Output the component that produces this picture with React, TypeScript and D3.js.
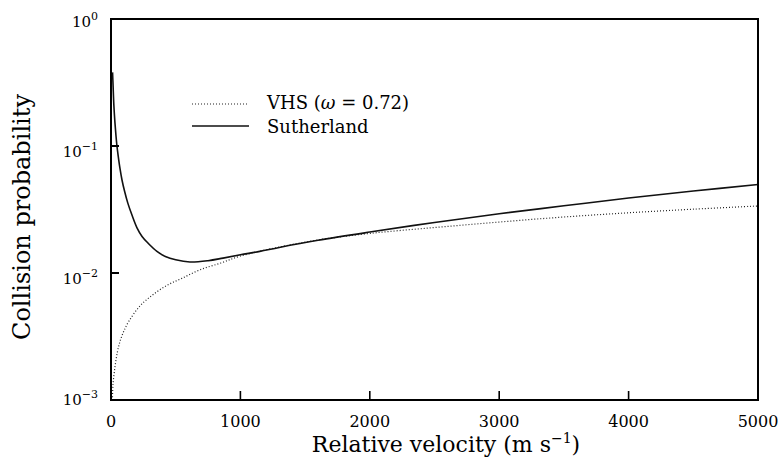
import React from "react";
import * as d3 from "d3";

// Data
const sutherlandV = [12, 16, 22, 30, 38, 46, 56, 70, 85, 105, 130, 162, 200, 240, 286, 355, 420, 500, 610, 750, 866, 1000, 1150, 1300, 1600, 2000, 2500, 3000, 3500, 4000, 4500, 5000];
const sutherlandP = [0.38, 0.3, 0.21, 0.155, 0.122, 0.1, 0.083, 0.066, 0.054, 0.044, 0.0355, 0.0286, 0.0228, 0.0194, 0.0172, 0.0148, 0.0135, 0.0127, 0.0122, 0.0125, 0.0131, 0.0139, 0.0148, 0.0159, 0.0181, 0.021, 0.025, 0.0293, 0.0338, 0.039, 0.0442, 0.0497];

const vhsV = [11, 15, 30, 50, 70, 100, 140, 224, 320, 433, 550, 688, 850, 1000, 1300, 1600, 2000, 2500, 3000, 3500, 4000, 4500, 5000];
const vhsP = [0.001, 0.0013, 0.0018, 0.0024, 0.0029, 0.0035, 0.0042, 0.0055, 0.0067, 0.008, 0.0091, 0.0106, 0.012, 0.0136, 0.016, 0.0182, 0.0205, 0.0228, 0.0252, 0.0276, 0.0298, 0.0318, 0.0337];

const xTicks = [0, 1000, 2000, 3000, 4000, 5000];
const yTicks = [1, 0.1, 0.01, 0.001];
const yExponents = ["0", "\u22121", "\u22122", "\u22123"];

const legendLabels = ["VHS", "Sutherland"];

const W = 782;
const H = 470;
const left = 111;
const right = 758;
const top = 19;
const bottom = 400;
const font = "DejaVu Serif, Liberation Serif, serif";

export default function App() {
  const x = d3.scaleLinear().domain([0, 5000]).range([left, right]);
  const y = d3.scaleLog().domain([1e-3, 1]).range([bottom, top]);

  const line = d3
    .line<[number, number]>()
    .x((d) => x(d[0]))
    .y((d) => y(d[1]))
    .curve(d3.curveCatmullRom.alpha(0.5));

  const suth = sutherlandV.map((v, i) => [v, sutherlandP[i]] as [number, number]);
  const vhs = vhsV.map((v, i) => [v, vhsP[i]] as [number, number]);

  const labelOffset = (v: number) => (v === 1 ? 8 : v === 1e-3 ? 5 : 11);

  return (
    <svg
      width={W}
      height={H}
      fontFamily={font}
      style={{ position: "absolute", left: 0, top: 0, background: "#fff" }}
    >
      <rect x={0} y={0} width={W} height={H} fill="#fff" />
      {/* curves */}
      <path d={line(vhs) || ""} fill="none" stroke="#222" strokeWidth={1.2} strokeDasharray="1,2" />
      <path d={line(suth) || ""} fill="none" stroke="#111" strokeWidth={1.6} />

      {/* frame */}
      <rect x={left} y={top} width={right - left} height={bottom - top} fill="none" stroke="#000" strokeWidth={2} />

      {/* x ticks */}
      {xTicks.map((t) => (
        <g key={t}>
          {t > 0 && t < 5000 && (
            <line x1={x(t)} x2={x(t)} y1={bottom} y2={bottom - 9} stroke="#000" strokeWidth={1.6} />
          )}
          <text x={x(t)} y={427} fontSize={16} textAnchor="middle" fill="#000" fontFamily={font}>
            {t}
          </text>
        </g>
      ))}

      {/* y ticks */}
      {yTicks.map((t, i) => (
        <g key={t}>
          {t < 1 && t > 1e-3 && (
            <line x1={left} x2={left + 8} y1={y(t)} y2={y(t)} stroke="#000" strokeWidth={2} />
          )}
          <text x={98} y={y(t) + labelOffset(t)} fontSize={15} textAnchor="end" fill="#000" fontFamily={font}>
            10
            <tspan dy={-7} fontSize={11}>
              {yExponents[i]}
            </tspan>
          </text>
        </g>
      ))}

      {/* axis titles */}
      <text x={446} y={452} fontSize={22} textAnchor="middle" fill="#000" fontFamily={font}>
        Relative velocity (m s
        <tspan dy={-9} fontSize={14}>
          {"\u22121"}
        </tspan>
        <tspan dy={9}>)</tspan>
      </text>
      <text
        transform={`translate(30, 217) rotate(-90)`}
        fontSize={24}
        textAnchor="middle"
        fill="#000"
        fontFamily={font}
      >
        Collision probability
      </text>

      {/* legend */}
      <line x1={192} x2={249} y1={104} y2={104} stroke="#222" strokeWidth={1.2} strokeDasharray="1,2" />
      <line x1={192} x2={249} y1={126} y2={126} stroke="#111" strokeWidth={1.6} />
      <text x={267} y={109} fontSize={18} fill="#000" fontFamily={font}>
        {legendLabels[0]} (<tspan fontStyle="italic">ω</tspan> = 0.72)
      </text>
      <text x={267} y={133} fontSize={18} fill="#000" fontFamily={font}>
        {legendLabels[1]}
      </text>
    </svg>
  );
}
